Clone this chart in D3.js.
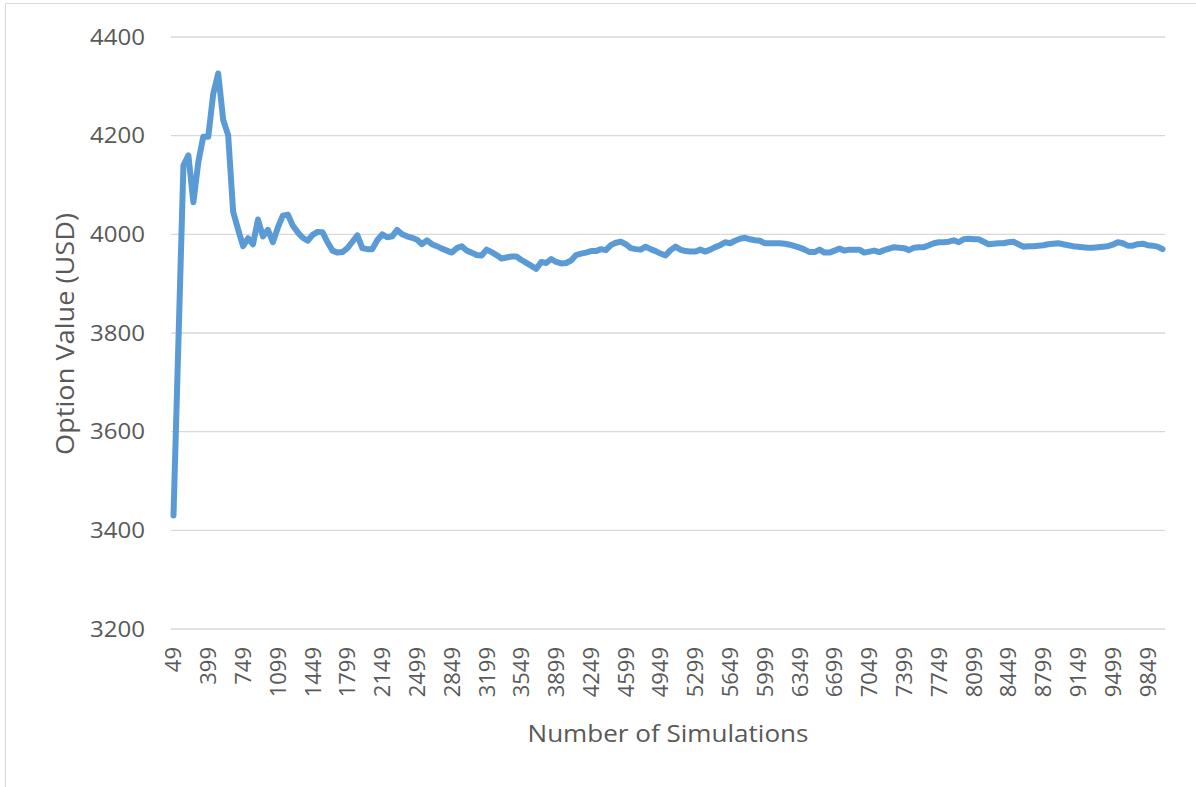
<!DOCTYPE html>
<html>
<head>
<meta charset="utf-8">
<script src="https://cdn.jsdelivr.net/npm/d3@7"></script>
<style>
  html, body { margin: 0; padding: 0; background: #fff; }
  svg { display: block; }
  text { font-family: "Open Sans", sans-serif; fill: #595959; }
</style>
</head>
<body>
<svg id="chart" width="1196" height="787"></svg>
<script>
// ---- data ----
const categories = d3.range(49, 10000, 50); // 49, 99, ..., 9999
const optionValues = [
  3430, 3785, 4140, 4160, 4065, 4147, 4198, 4198, 4285, 4326,
  4232, 4201, 4046, 4010, 3976, 3992, 3980, 4030, 3996, 4009,
  3984, 4014, 4038, 4040, 4018, 4004, 3993, 3987, 3999, 4005,
  4004, 3984, 3967, 3963, 3964, 3972, 3985, 3998, 3972, 3970,
  3970, 3988, 4000, 3994, 3996, 4009, 4000, 3996, 3993, 3989,
  3980, 3988, 3980, 3976, 3971, 3967, 3963, 3972, 3976, 3967,
  3963, 3958, 3957, 3969, 3964, 3958, 3951, 3953, 3955, 3955,
  3948, 3942, 3936, 3930, 3944, 3942, 3950, 3944, 3941, 3942,
  3947, 3958, 3961, 3963, 3966, 3966, 3970, 3968, 3978, 3983,
  3985, 3980, 3972, 3970, 3969, 3975, 3970, 3966, 3961, 3957,
  3968, 3975, 3969, 3966, 3965, 3965, 3969, 3965, 3969, 3974,
  3978, 3984, 3982, 3987, 3991, 3993, 3990, 3988, 3987, 3982,
  3982, 3982, 3982, 3981, 3979, 3976, 3973, 3969, 3964, 3964,
  3969, 3963, 3963, 3967, 3971, 3967, 3969, 3969, 3969, 3963,
  3965, 3967, 3964, 3968, 3971, 3974, 3973, 3972, 3968, 3973,
  3974, 3974, 3978, 3982, 3984, 3984, 3985, 3988, 3984, 3990,
  3991, 3990, 3990, 3985, 3980, 3981, 3982, 3982, 3984, 3985,
  3980, 3975, 3976, 3976, 3977, 3978, 3980, 3981, 3982, 3980,
  3978, 3976, 3975, 3974, 3973, 3973, 3974, 3975, 3976, 3979,
  3984, 3982, 3977, 3977, 3980, 3981, 3978, 3977, 3975, 3970
];
const xTickLabels = [49, 399, 749, 1099, 1449, 1799, 2149, 2499, 2849, 3199, 3549,
  3899, 4249, 4599, 4949, 5299, 5649, 5999, 6349, 6699, 7049, 7399, 7749, 8099,
  8449, 8799, 9149, 9499, 9849];
const yTicks = [3200, 3400, 3600, 3800, 4000, 4200, 4400];
const xTitle = "Number of Simulations";
const yTitle = "Option Value (USD)";

// ---- layout ----
const svg = d3.select("#chart");
const plot = { left: 171, right: 1165, top: 37, bottom: 629 };

// border
svg.append("line").attr("x1", 5.5).attr("x2", 5.5).attr("y1", 3.5).attr("y2", 787)
  .attr("stroke", "#d9d9d9").attr("stroke-width", 1);
svg.append("line").attr("x1", 5.5).attr("x2", 1196).attr("y1", 3.5).attr("y2", 3.5)
  .attr("stroke", "#d9d9d9").attr("stroke-width", 1);

const x = d3.scaleBand().domain(categories).range([plot.left, plot.right]);
const y = d3.scaleLinear().domain([3200, 4400]).range([plot.bottom, plot.top]);
const cx = d => x(d) + x.bandwidth() / 2;

// gridlines
svg.append("g").selectAll("line").data(yTicks).join("line")
  .attr("x1", plot.left).attr("x2", plot.right)
  .attr("y1", d => y(d)).attr("y2", d => y(d))
  .attr("stroke", "#d9d9d9").attr("stroke-width", 1.4);

// y axis labels
const yAxis = svg.append("g").attr("transform", `translate(${plot.left},0)`)
  .call(d3.axisLeft(y).tickValues(yTicks).tickFormat(d3.format("d")).tickSize(0).tickPadding(26));
yAxis.select(".domain").remove();
yAxis.selectAll("text").style("font-size", "22px").style("fill", "#595959")
  .style("font-family", "'Open Sans', sans-serif")
  .attr("textLength", 55).attr("lengthAdjust", "spacingAndGlyphs");

// x axis labels
const xAxis = svg.append("g").attr("transform", `translate(0,${plot.bottom})`)
  .call(d3.axisBottom(x).tickValues(xTickLabels).tickFormat(d3.format("d")).tickSize(0).tickPadding(0));
xAxis.select(".domain").remove();
xAxis.selectAll(".tick text")
  .style("font-size", "22px").style("fill", "#595959")
  .style("font-family", "'Open Sans', sans-serif")
  .attr("text-anchor", "end")
  .attr("transform", "rotate(-90)")
  .attr("x", -18).attr("y", 0).attr("dy", "0.36em");

// line
const line = d3.line().x((d, i) => cx(categories[i])).y(d => y(d));
svg.append("path").datum(optionValues)
  .attr("d", line).attr("fill", "none")
  .attr("stroke", "#5B9BD5").attr("stroke-width", 6)
  .attr("stroke-linejoin", "round").attr("stroke-linecap", "round");

// titles
svg.append("text").attr("x", (plot.left + plot.right) / 2 - 0).attr("y", 742)
  .attr("text-anchor", "middle").style("font-size", "24px")
  .attr("textLength", 281).attr("lengthAdjust", "spacingAndGlyphs")
  .text(xTitle);
svg.append("text").attr("transform", `translate(74,334) rotate(-90)`)
  .attr("text-anchor", "middle").style("font-size", "25px")
  .attr("textLength", 242).attr("lengthAdjust", "spacingAndGlyphs")
  .text(yTitle);
</script>
</body>
</html>
